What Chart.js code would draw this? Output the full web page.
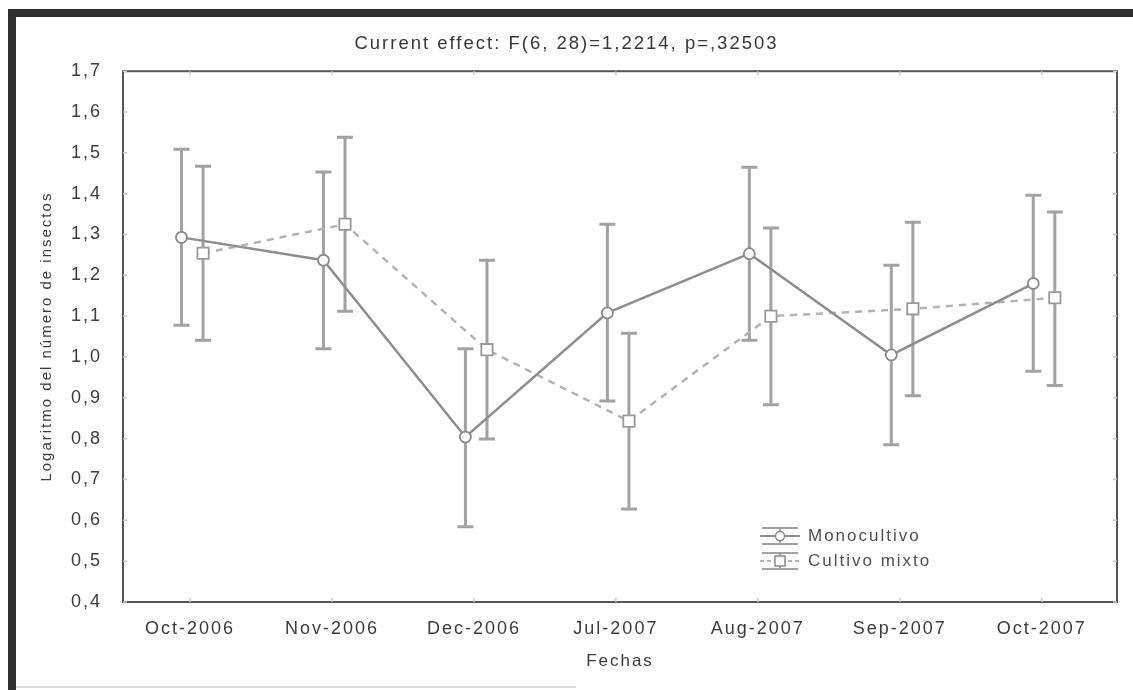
<!DOCTYPE html>
<html>
<head>
<meta charset="utf-8">
<title>Logaritmo del número de insectos</title>
<script src="https://cdn.jsdelivr.net/npm/chart.js"></script>
<style>
  body { margin:0; background:#fff; }
  canvas { display:block; }
</style>
</head>
<body>
<canvas id="chart" width="1133" height="690"></canvas>
<script>
// ---- data ----
const fechas = ["Oct-2006", "Nov-2006", "Dec-2006", "Jul-2007", "Aug-2007", "Sep-2007", "Oct-2007"];

const monoMedia = [1.293, 1.237, 0.804, 1.108, 1.253, 1.005, 1.180];
const monoSup   = [1.509, 1.453, 1.020, 1.325, 1.465, 1.225, 1.396];
const monoInf   = [1.078, 1.020, 0.584, 0.892, 1.041, 0.785, 0.965];

const mixtoMedia = [1.254, 1.325, 1.018, 0.843, 1.100, 1.118, 1.145];
const mixtoSup   = [1.467, 1.538, 1.237, 1.058, 1.316, 1.330, 1.355];
const mixtoInf   = [1.041, 1.112, 0.799, 0.628, 0.883, 0.905, 0.930];

const yTicks = [0.4, 0.5, 0.6, 0.7, 0.8, 0.9, 1.0, 1.1, 1.2, 1.3, 1.4, 1.5, 1.6, 1.7];

const monoShift = -0.06, mixtoShift = 0.092;
const monoColor = '#8e8e8e', mixtoColor = '#b3b3b3', barColor = '#a2a2a2';
const txt = '#3c3c3c';
const FONT = '"Liberation Sans", Arial, sans-serif';

const spacing = {
  id: 'spacing',
  beforeLayout(chart) { chart.ctx.letterSpacing = '2px'; },
  beforeDraw(chart) {
    const c = chart.ctx;
    c.letterSpacing = '2px';
    c.save();
    c.fillStyle = '#fff';
    c.fillRect(0, 0, chart.width, chart.height);
    // dark scan frame (top and left)
    c.fillStyle = '#2f2f2f';
    c.fillRect(8, 9, chart.width - 8, 8);
    c.fillRect(8, 9, 8, chart.height - 9);
    c.fillStyle = '#dcdcdc';
    c.fillRect(16, 686, 560, 2);
    c.restore();
  }
};

// frame, inner ticks and error bars, through the chart's scales
const errorBars = {
  id: 'errorBars',
  beforeDatasetsDraw(chart) {
    const c = chart.ctx, a = chart.chartArea;
    const xs = chart.scales.x, ys = chart.scales.y;
    c.save();
    c.strokeStyle = '#555';
    c.lineWidth = 2;
    c.strokeRect(a.left, a.top, a.right - a.left, a.bottom - a.top);
    c.strokeStyle = '#c8c8c8';
    c.lineWidth = 1.5;
    yTicks.forEach(v => {
      const y = ys.getPixelForValue(v);
      c.beginPath();
      c.moveTo(a.left, y); c.lineTo(a.left + 4, y);
      c.moveTo(a.right, y); c.lineTo(a.right - 4, y);
      c.stroke();
    });
    fechas.forEach((f, i) => {
      const x = xs.getPixelForValue(i);
      c.beginPath();
      c.moveTo(x, a.bottom); c.lineTo(x, a.bottom - 4);
      c.moveTo(x, a.top); c.lineTo(x, a.top + 4);
      c.stroke();
    });
    const draw = (shift, sup, inf) => {
      sup.forEach((s, i) => {
        const x = xs.getPixelForValue(i + shift);
        const y1 = ys.getPixelForValue(s), y2 = ys.getPixelForValue(inf[i]);
        c.beginPath();
        c.moveTo(x, y1); c.lineTo(x, y2);
        c.moveTo(x - 8, y1); c.lineTo(x + 8, y1);
        c.moveTo(x - 8, y2); c.lineTo(x + 8, y2);
        c.stroke();
      });
    };
    c.strokeStyle = barColor;
    c.lineWidth = 3;
    draw(monoShift, monoSup, monoInf);
    draw(mixtoShift, mixtoSup, mixtoInf);
    c.restore();
  },
  afterDraw(chart) {
    // legend inside the plot
    const c = chart.ctx;
    c.save();
    const x0 = 760, x1 = 800, xm = 780;
    const rows = [
      { y: 536, label: 'Monocultivo', dash: [], col: monoColor, shape: 'circle' },
      { y: 561, label: 'Cultivo mixto', dash: [4, 3], col: mixtoColor, shape: 'rect' }
    ];
    rows.forEach(r => {
      c.strokeStyle = barColor;
      c.lineWidth = 2;
      c.setLineDash([]);
      c.beginPath();
      c.moveTo(x0 + 2, r.y - 8); c.lineTo(x1 - 2, r.y - 8);
      c.moveTo(x0 + 2, r.y + 8); c.lineTo(x1 - 2, r.y + 8);
      c.moveTo(xm, r.y - 8); c.lineTo(xm, r.y + 8);
      c.stroke();
      c.strokeStyle = r.col;
      c.setLineDash(r.dash);
      c.beginPath();
      c.moveTo(x0, r.y); c.lineTo(x1, r.y);
      c.stroke();
      c.setLineDash([]);
      c.fillStyle = '#fff';
      c.strokeStyle = '#8a8a8a';
      c.lineWidth = 1.5;
      c.beginPath();
      if (r.shape === 'circle') c.arc(xm, r.y, 4.5, 0, Math.PI * 2);
      else c.rect(xm - 5, r.y - 5, 10, 10);
      c.fill(); c.stroke();
      c.fillStyle = '#505050';
      c.font = '17px ' + FONT;
      c.letterSpacing = '2px';
      c.textBaseline = 'middle';
      c.fillText(r.label, 808, r.y);
    });
    c.restore();
  }
};

new Chart(document.getElementById('chart'), {
  type: 'line',
  data: {
    datasets: [
      {
        label: 'Monocultivo',
        data: monoMedia.map((v, i) => ({ x: i + monoShift, y: v })),
        borderColor: monoColor,
        borderWidth: 2.5,
        pointStyle: 'circle',
        pointRadius: 5.5,
        pointBorderWidth: 1.8,
        pointBackgroundColor: '#fff',
        pointBorderColor: '#8a8a8a',
        tension: 0
      },
      {
        label: 'Cultivo mixto',
        data: mixtoMedia.map((v, i) => ({ x: i + mixtoShift, y: v })),
        borderColor: mixtoColor,
        borderWidth: 2.5,
        borderDash: [7, 6],
        pointStyle: 'rect',
        pointRadius: 8,
        pointBorderWidth: 1.8,
        pointBackgroundColor: '#fff',
        pointBorderColor: '#999',
        tension: 0
      }
    ]
  },
  options: {
    responsive: false,
    animation: false,
    layout: { padding: { left: 16, right: 16, top: 0, bottom: 0 } },
    plugins: {
      legend: { display: false },
      tooltip: { enabled: false },
      title: {
        display: true,
        text: 'Current effect: F(6, 28)=1,2214, p=,32503',
        color: '#383838',
        font: { family: FONT, size: 18.5, weight: 'normal' },
        padding: { top: 33, bottom: 16 }
      }
    },
    scales: {
      x: {
        type: 'linear',
        min: -0.472,
        max: 6.53,
        grid: { display: false },
        border: { display: false },
        afterBuildTicks(scale) { scale.ticks = fechas.map((f, i) => ({ value: i })); },
        afterFit(scale) { scale.height = 88; },
        ticks: {
          color: txt,
          padding: 8,
          autoSkip: false,
          maxRotation: 0,
          font: { family: FONT, size: 18 },
          callback: (v) => fechas[v]
        },
        title: {
          display: true,
          text: 'Fechas',
          color: txt,
          font: { family: FONT, size: 17 },
          padding: { top: 4, bottom: 18 }
        }
      },
      y: {
        min: 0.4,
        max: 1.7,
        grid: { display: false },
        border: { display: false },
        afterBuildTicks(scale) { scale.ticks = yTicks.map(v => ({ value: v })); },
        afterFit(scale) { scale.width = 107; },
        ticks: {
          color: txt,
          padding: 13,
          font: { family: FONT, size: 18 },
          callback: (v) => v.toFixed(1).replace('.', ',')
        },
        title: {
          display: true,
          text: 'Logaritmo del número de insectos',
          color: txt,
          font: { family: FONT, size: 15 },
          padding: { top: 22 }
        }
      }
    }
  },
  plugins: [spacing, errorBars]
});
</script>
</body>
</html>
